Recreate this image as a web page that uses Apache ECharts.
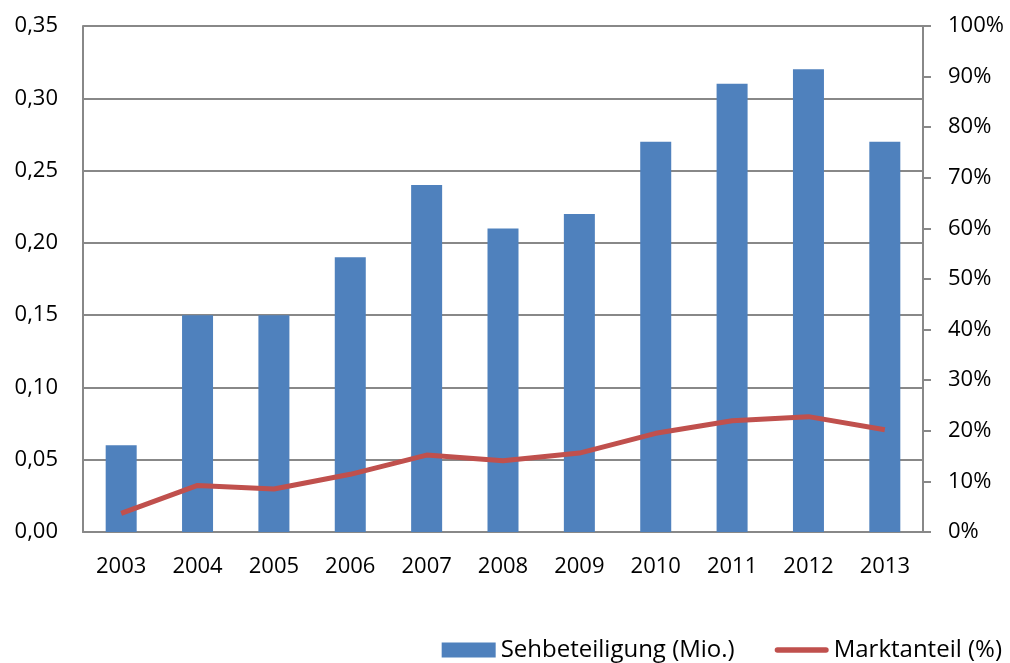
<!DOCTYPE html>
<html>
<head>
<meta charset="utf-8">
<script src="https://cdn.jsdelivr.net/npm/echarts@6/dist/echarts.min.js"></script>
<style>
  html, body { margin: 0; padding: 0; background: #fff; }
  #chart { width: 1010px; height: 663px; }
</style>
</head>
<body>
<div id="chart"></div>
<script>
// Jahre auf der x-Achse
const years = ['2003', '2004', '2005', '2006', '2007', '2008', '2009', '2010', '2011', '2012', '2013'];
// Sehbeteiligung in Millionen (linke Achse)
const viewers = [0.06, 0.15, 0.15, 0.19, 0.24, 0.21, 0.22, 0.27, 0.31, 0.32, 0.27];
// Marktanteil in Prozent (rechte Achse)
const share = [3.7, 9.2, 8.5, 11.4, 15.2, 14.1, 15.6, 19.5, 22.0, 22.8, 20.2];

const FONT = 'Open Sans';
const AXIS_FONT = 22;
const chart = echarts.init(document.getElementById('chart'));

chart.setOption({
  animation: false,
  textStyle: { fontFamily: FONT },
  grid: { left: 83, right: 87, top: 26, bottom: 131 },
  legend: {
    right: 3,
    top: 633,
    itemGap: 40,
    itemWidth: 54,
    itemHeight: 15,
    textStyle: { fontFamily: FONT, fontSize: 24, color: '#000' },
    data: [
      { name: 'Sehbeteiligung (Mio.)', icon: 'rect' },
      { name: 'Marktanteil (%)', icon: 'path://M2.75,0 L51.25,0 A2.75,2.75 0 0 1 51.25,5.5 L2.75,5.5 A2.75,2.75 0 0 1 2.75,0 Z' }
    ]
  },
  xAxis: {
    type: 'category',
    data: years,
    axisLine: { lineStyle: { color: '#888', width: 2 } },
    axisTick: { show: false },
    axisLabel: { color: '#000', fontSize: AXIS_FONT, margin: 24, fontFamily: FONT }
  },
  yAxis: [
    {
      type: 'value',
      min: 0, max: 0.35, interval: 0.05,
      axisLine: { show: true, lineStyle: { color: '#888', width: 2 } },
      axisTick: { show: false },
      splitLine: { lineStyle: { color: '#888', width: 2 } },
      axisLabel: {
        color: '#000', fontSize: AXIS_FONT, margin: 25, fontFamily: FONT,
        formatter: v => v.toFixed(2).replace('.', ',')
      }
    },
    {
      type: 'value',
      min: 0, max: 100, interval: 10,
      position: 'right',
      axisLine: { show: true, lineStyle: { color: '#888', width: 2 } },
      axisTick: { show: true, length: 8, lineStyle: { color: '#888', width: 2 } },
      splitLine: { show: false },
      axisLabel: {
        color: '#000', fontSize: AXIS_FONT, margin: 25, fontFamily: FONT,
        formatter: v => v + '%'
      }
    }
  ],
  series: [
    {
      name: 'Sehbeteiligung (Mio.)',
      type: 'bar',
      data: viewers,
      barWidth: 31,
      itemStyle: { color: '#4F81BD' }
    },
    {
      name: 'Marktanteil (%)',
      type: 'line',
      yAxisIndex: 1,
      data: share,
      symbol: 'none',
      lineStyle: { color: '#C0504D', width: 5 },
      itemStyle: { color: '#C0504D' }
    }
  ]
});
</script>
</body>
</html>
